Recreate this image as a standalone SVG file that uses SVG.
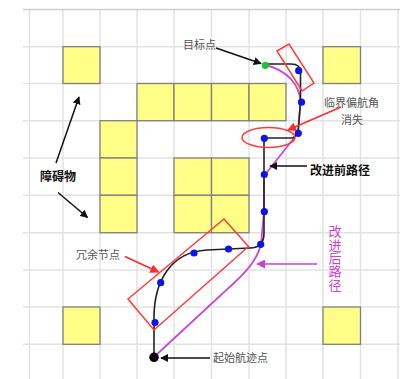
<svg xmlns="http://www.w3.org/2000/svg" width="400" height="379" viewBox="0 0 400 379">
<defs>
<style>
.grid line{stroke:#e2e2e2;stroke-width:1.5}
.obs{fill:#ffff88;stroke:#808080;stroke-width:1.3}
.red{fill:none;stroke:#ff3b3b;stroke-width:1.5}
.blue{fill:#0a14e6}
.lbl{font-family:"Liberation Sans","Noto Sans CJK SC",sans-serif;font-size:11px;fill:#555}
.bold{font-family:"Liberation Sans","Noto Sans CJK SC",sans-serif;font-size:12px;font-weight:bold;fill:#111}
.mag{font-family:"Noto Sans CJK SC",sans-serif;font-size:13px;fill:#cc3fcc;writing-mode:vertical-rl;letter-spacing:0.3px}
</style>
<marker id="ab" viewBox="0 0 10 10" refX="9" refY="5" markerWidth="8" markerHeight="8" markerUnits="userSpaceOnUse" orient="auto"><path d="M0,0L10,5L0,10z" fill="#111"/></marker>
<marker id="ar" viewBox="0 0 10 10" refX="9" refY="5" markerWidth="9" markerHeight="9" markerUnits="userSpaceOnUse" orient="auto"><path d="M0,0L10,5L0,10z" fill="#ff2a2a"/></marker>
<marker id="am" viewBox="0 0 10 10" refX="9" refY="5" markerWidth="9" markerHeight="9" markerUnits="userSpaceOnUse" orient="auto"><path d="M0,0L10,5L0,10z" fill="#cc3fcc"/></marker>
</defs>
<rect width="400" height="379" fill="#fff"/>
<g class="grid" id="grid">
<line x1="29.5" y1="9.5" x2="29.5" y2="379"/><line x1="63" y1="9.5" x2="63" y2="379"/><line x1="100" y1="9.5" x2="100" y2="379"/><line x1="137" y1="9.5" x2="137" y2="379"/><line x1="174" y1="9.5" x2="174" y2="379"/><line x1="211.5" y1="9.5" x2="211.5" y2="379"/><line x1="249" y1="9.5" x2="249" y2="379"/><line x1="286" y1="9.5" x2="286" y2="379"/><line x1="323" y1="9.5" x2="323" y2="379"/><line x1="360.5" y1="9.5" x2="360.5" y2="379"/><line x1="398" y1="9.5" x2="398" y2="379"/>
<line x1="23" y1="46.7" x2="400" y2="46.7"/><line x1="23" y1="83.5" x2="400" y2="83.5"/><line x1="23" y1="120.7" x2="400" y2="120.7"/><line x1="23" y1="158" x2="400" y2="158"/><line x1="23" y1="195.3" x2="400" y2="195.3"/><line x1="23" y1="232.7" x2="400" y2="232.7"/><line x1="23" y1="270" x2="400" y2="270"/><line x1="23" y1="307" x2="400" y2="307"/><line x1="23" y1="344.3" x2="400" y2="344.3"/>
<line x1="23" y1="9.5" x2="400" y2="9.5" style="stroke:#cfcfcf"/>
</g>
<g id="obstacles">
<rect class="obs" x="63" y="46.7" width="37" height="36.8"/>
<rect class="obs" x="323" y="46.7" width="37.5" height="36.8"/>
<rect class="obs" x="137" y="83.5" width="37" height="37.2"/>
<rect class="obs" x="174" y="83.5" width="37.5" height="37.2"/>
<rect class="obs" x="211.5" y="83.5" width="37.5" height="37.2"/>
<rect class="obs" x="249" y="83.5" width="37" height="37.2"/>
<rect class="obs" x="100" y="120.7" width="37" height="37.3"/>
<rect class="obs" x="100" y="158" width="37" height="37.3"/>
<rect class="obs" x="100" y="195.3" width="37" height="37.4"/>
<rect class="obs" x="174" y="158" width="37.5" height="37.3"/>
<rect class="obs" x="211.5" y="158" width="37.5" height="37.3"/>
<rect class="obs" x="174" y="195.3" width="37.5" height="37.4"/>
<rect class="obs" x="211.5" y="195.3" width="37.5" height="37.4"/>
<rect class="obs" x="63" y="307" width="37" height="37.3"/>
<rect class="obs" x="323" y="307" width="37.5" height="37.3"/>
</g>
<g id="connectors">
<path id="improved-path" d="M154,357 L222,294 C240,278 257,263 261,244 L264,212 L264,176 L298,133 L300.5,102 C300,86 288,70 265,65" fill="none" stroke="#c84ad8" stroke-width="1.8"/>
<path id="original-path" d="M154,357 L154,318 C154,282 170,252 207,250 L250,248 C259,248 264,243 264,233 L264,138 L293,138 L298,133 L300.5,102 L300.5,72 C300.5,67 297,64 291,64 L265,64" fill="none" stroke="#222" stroke-width="1.6"/>
<line x1="216" y1="48" x2="261" y2="63.5" stroke="#111" stroke-width="1.5" marker-end="url(#ab)"/>
<line x1="56" y1="163" x2="79" y2="97" stroke="#111" stroke-width="1.5" marker-end="url(#ab)"/>
<line x1="58" y1="192.5" x2="87.5" y2="217.5" stroke="#111" stroke-width="1.5" marker-end="url(#ab)"/>
<line x1="307" y1="166" x2="270" y2="166" stroke="#111" stroke-width="1.5" marker-end="url(#ab)"/>
<line x1="210" y1="358" x2="161" y2="358" stroke="#111" stroke-width="1.5" marker-end="url(#ab)"/>
<line x1="341" y1="107" x2="288" y2="130" stroke="#ff2a2a" stroke-width="1.5" marker-end="url(#ar)"/>
<line x1="125" y1="256.5" x2="158.5" y2="272" stroke="#ff2a2a" stroke-width="1.5" marker-end="url(#ar)"/>
<line x1="317" y1="264" x2="257" y2="264" stroke="#cc3fcc" stroke-width="1.5" marker-end="url(#am)"/>
</g>
<g id="highlights">
<polygon class="red" points="277,51 289,44 314,83 302,91"/>
<ellipse class="red" cx="268.5" cy="137.5" rx="26.5" ry="10"/>
<polygon class="red" points="128,299 224,219 248.5,246.5 154,330"/>
</g>
<g id="nodes">
<circle class="blue" cx="155" cy="322.5" r="3.6"/>
<circle class="blue" cx="160.7" cy="282.7" r="3.6"/>
<circle class="blue" cx="194" cy="253" r="3.6"/>
<circle class="blue" cx="228.5" cy="249" r="3.6"/>
<circle class="blue" cx="260.7" cy="244.3" r="3.6"/>
<circle class="blue" cx="264.3" cy="211.7" r="3.6"/>
<circle class="blue" cx="264.3" cy="174.5" r="3.6"/>
<circle class="blue" cx="264.3" cy="138.3" r="3.6"/>
<circle class="blue" cx="298.3" cy="133.3" r="3.6"/>
<circle class="blue" cx="301.5" cy="102.2" r="3.6"/>
<circle class="blue" cx="298.7" cy="70.7" r="3.6"/>
<circle cx="265.3" cy="65.3" r="3.6" fill="#22c13a"/>
<circle cx="154" cy="357.3" r="4.8" fill="#000"/>
</g>
<g id="labels">
<text class="lbl" x="183" y="49">目标点</text>
<text class="bold" x="40" y="181">障碍物</text>
<text class="bold" x="310" y="175">改进前路径</text>
<text class="lbl" x="351.5" y="107" text-anchor="middle">临界偏航角</text>
<text class="lbl" x="352" y="124" text-anchor="middle">消失</text>
<text class="lbl" x="76" y="259">冗余节点</text>
<text class="lbl" x="213" y="362">起始航迹点</text>
<text class="mag" x="335" y="225">改进后路径</text>
</g>
</svg>
